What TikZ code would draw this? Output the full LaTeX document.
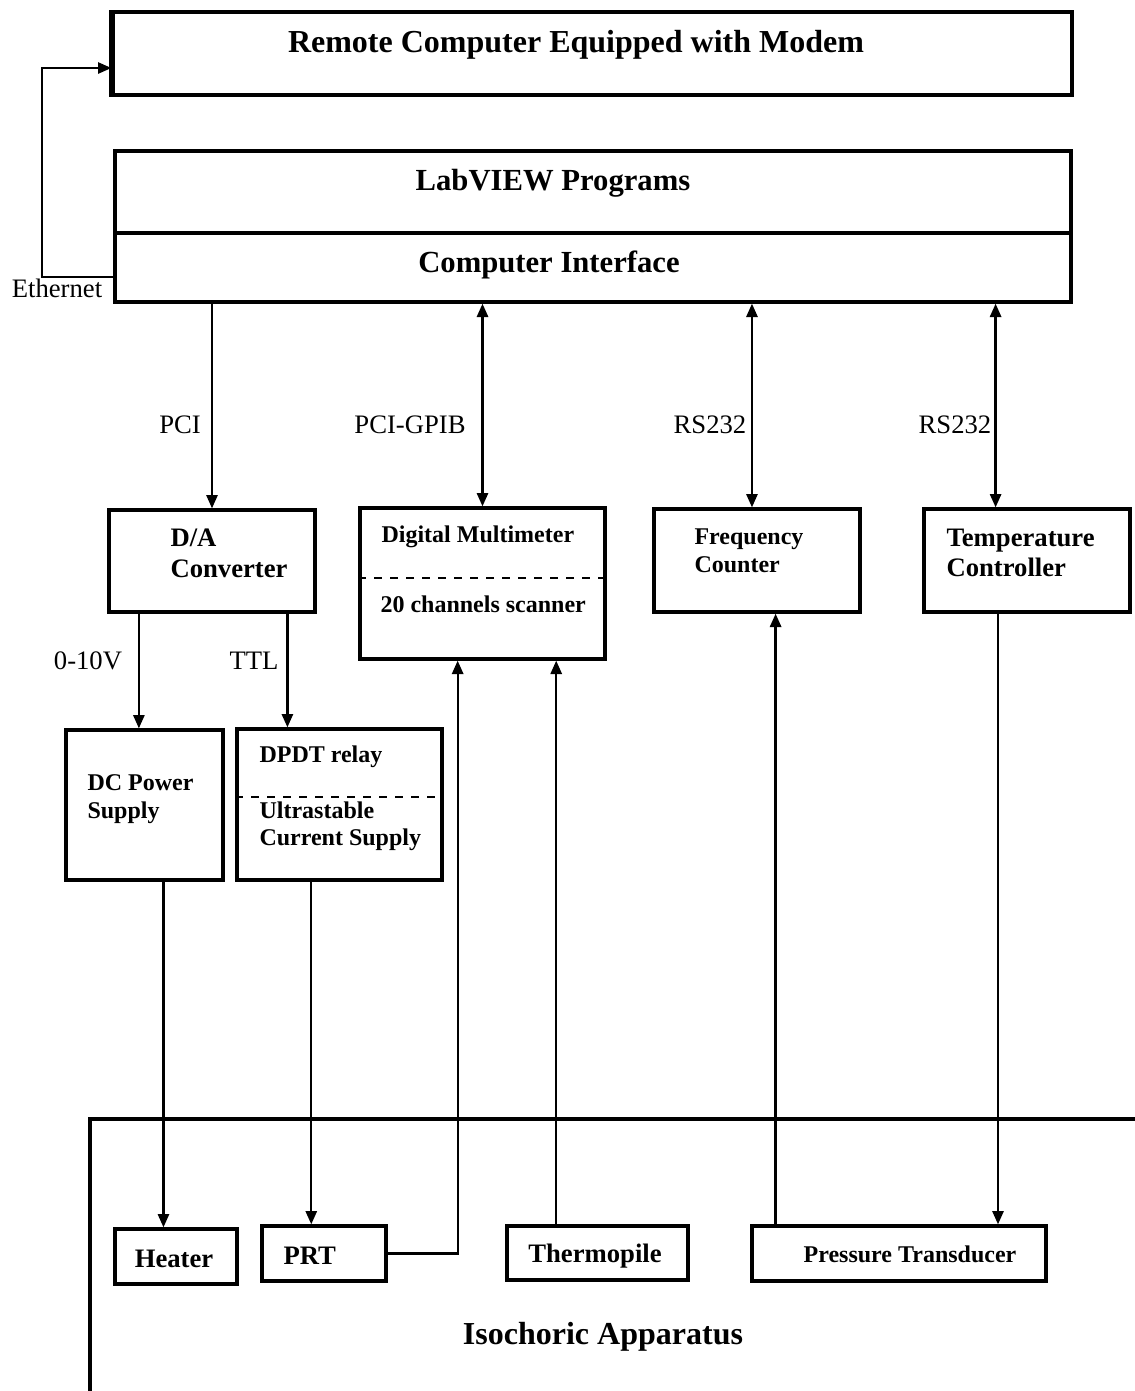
\documentclass[tikz,border=0pt]{standalone}
\usepackage{fontspec}
\setmainfont{Liberation Serif}
\usetikzlibrary{arrows.meta,positioning,fit,calc}
\tikzset{
  blk/box/.style={draw, line width=1.25pt, inner sep=0pt},
  blk/name/.style={font=\fontsize{10}{11.5}\selectfont\bfseries, inner sep=0pt, align=left},
  blk/small/.style={blk/name, font=\fontsize{9}{10.3}\selectfont\bfseries},
  blk/title/.style={font=\fontsize{12}{14}\selectfont\bfseries, inner sep=0pt},
  blk/bus/.style={font=\fontsize{10}{12}\selectfont, inner sep=0pt},
  blk/line/.style={line width=0.85pt},
  blk/arrow/.style={blk/line, -{Triangle[length=5pt,width=4.2pt]}},
  blk/both/.style={blk/line, {Triangle[length=5pt,width=4.2pt]}-{Triangle[length=5pt,width=4.2pt]}},
  blk/divider/.style={line width=0.85pt, dashed},
  blk/wall/.style={line width=1.25pt}
}

\begin{document}
\begin{tikzpicture}[x=0.375pt, y=-0.375pt]
  \useasboundingbox (0,0) rectangle (1135,1391);

  % computers
  \node[blk/box, fit={(113,12) (1072,95)}] (remote) {};
  \draw[line width=1.8pt] (remote.north west) -- (remote.south west);
  \node[blk/title] (remotetxt) at (576,45) {Remote Computer Equipped with Modem};
  \node[blk/box, fit={(115,151) (1071,233)}] (labview) {};
  \node[blk/box, fit={(115,233) (1071,302)}] (iface) {};
  \node[blk/title, font=\fontsize{11.5}{14}\selectfont\bfseries] (labviewtxt) at (553,183) {LabVIEW Programs};
  \node[blk/title, font=\fontsize{11.5}{14}\selectfont\bfseries] (ifacetxt) at (549,265) {Computer Interface};

  % ethernet link
  \coordinate (ethlow) at (42,277);
  \coordinate (ethhigh) at (42,68);
  \draw[blk/arrow] (iface.west |- ethlow) -- (ethlow) -- (ethhigh) -- (remote.west |- ethhigh);
  \node[blk/bus] (ethtxt) at (57,288) {Ethernet};

  % instruments
  \node[blk/box, fit={(109,510) (315,612)}] (da) {};
  \node[blk/name, anchor=west] (datxt) at (170,553) {D/A\\Converter};
  \node[blk/box, fit={(360,508) (605,659)}] (dmm) {};
  \draw[blk/divider] ($(dmm.north west)!0.464!(dmm.south west)$) -- ($(dmm.north east)!0.464!(dmm.south east)$);
  \node[blk/small, anchor=west] (dmmtxt) at (381,537) {Digital Multimeter};
  \node[blk/small, anchor=west] (scantxt) at (380,604) {20 channels scanner};
  \node[blk/box, fit={(654,509) (860,612)}] (freq) {};
  \node[blk/small, anchor=west] (freqtxt) at (694,551) {Frequency\\Counter};
  \node[blk/box, fit={(924,509) (1130,612)}] (temp) {};
  \node[blk/name, anchor=west] (temptxt) at (946,553) {Temperature\\Controller};

  % buses
  \coordinate (freqin) at ($(freq.north west)!0.476!(freq.north east)$);
  \coordinate (tempin) at ($(temp.north west)!0.35!(temp.north east)$);
  \draw[blk/arrow] (da.north |- iface.south) -- (da.north);
  \draw[blk/both] (dmm.north |- iface.south) -- (dmm.north);
  \draw[blk/both] (freqin |- iface.south) -- (freqin);
  \draw[blk/both] (tempin |- iface.south) -- (tempin);
  \node[blk/bus] (pcitxt) at (180,425) {PCI};
  \node[blk/bus] (gpibtxt) at (410,425) {PCI-GPIB};
  \node[blk/bus] (rsatxt) at (710,425) {RS232};
  \node[blk/bus] (rsbtxt) at (955,425) {RS232};

  % supplies
  \node[blk/box, fit={(66,730) (223,880)}] (dc) {};
  \node[blk/small, anchor=west] (dctxt) at (87,799) {DC Power\\Supply};
  \node[blk/box, fit={(237,729) (442,880)}] (relay) {};
  \draw[blk/divider] ($(relay.north west)!0.45!(relay.south west)$) -- ($(relay.north east)!0.45!(relay.south east)$);
  \node[blk/small, anchor=west] (relaytxt) at (259,757) {DPDT relay};
  \node[blk/small, anchor=west] (cstxt) at (259,826) {Ultrastable\\Current Supply};
  \coordinate (dcin) at ($(dc.north west)!0.465!(dc.north east)$);
  \coordinate (relayin) at ($(relay.north west)!0.25!(relay.north east)$);
  \draw[blk/arrow] (da.south -| dcin) -- (dcin);
  \draw[blk/arrow] (da.south -| relayin) -- (relayin);
  \node[blk/bus] (volttxt) at (88,661) {0-10V};
  \node[blk/bus] (ttltxt) at (254,661) {TTL};

  % isochoric apparatus
  \draw[blk/wall] (1135,1119) -- (90,1119) -- (90,1391);
  \node[blk/title] (isotxt) at (603,1337) {Isochoric Apparatus};
  \node[blk/box, fit={(115,1229) (237,1284)}] (heater) {};
  \node[blk/name] (heatertxt) at (174,1259) {Heater};
  \node[blk/box, fit={(262,1226) (386,1281)}] (prt) {};
  \node[blk/name, anchor=west] (prttxt) at (283,1256) {PRT};
  \node[blk/box, fit={(507,1226) (688,1280)}] (thermo) {};
  \node[blk/name] (thermotxt) at (595,1256) {Thermopile};
  \node[blk/box, fit={(752,1226) (1046,1281)}] (pt) {};
  \node[blk/small] (pttxt) at (910,1254) {Pressure Transducer};

  % sensor wiring
  \coordinate (heaterin) at ($(heater.north west)!0.4!(heater.north east)$);
  \coordinate (prtin) at ($(prt.north west)!0.4!(prt.north east)$);
  \coordinate (dmmina) at ($(dmm.south west)!0.4!(dmm.south east)$);
  \coordinate (thermoout) at ($(thermo.north west)!0.276!(thermo.north east)$);
  \coordinate (ptout) at ($(pt.north west)!0.085!(pt.north east)$);
  \coordinate (ptin) at ($(pt.north west)!0.833!(pt.north east)$);
  \draw[blk/arrow] (dc.south -| heaterin) -- (heaterin);
  \draw[blk/arrow] (relay.south -| prtin) -- (prtin);
  \draw[blk/arrow] (prt.east) -| (dmmina);
  \draw[blk/arrow] (thermoout) -- (dmm.south -| thermoout);
  \draw[blk/arrow] (ptout) -- (freq.south -| ptout);
  \draw[blk/arrow] (temp.south -| ptin) -- (ptin);
\end{tikzpicture}
\end{document}
